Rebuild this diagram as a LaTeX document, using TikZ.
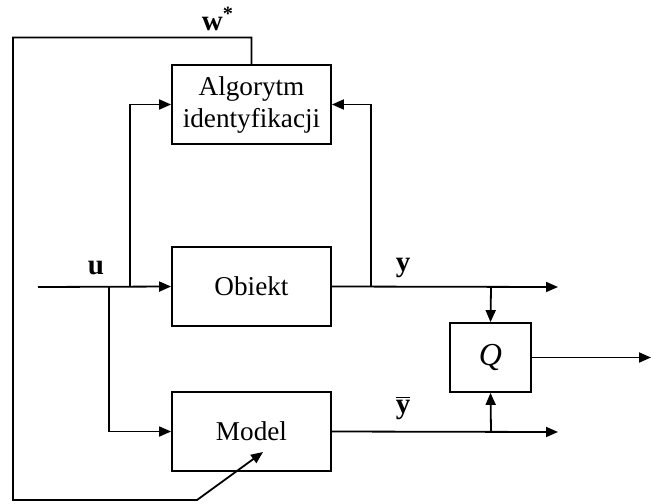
\documentclass[tikz,border=0pt]{standalone}
\usepackage{fontspec}
\setmainfont{Liberation Serif}
\usetikzlibrary{arrows.meta}
\begin{document}
\begin{tikzpicture}[
    x=0.5pt, y=-0.5pt,
    font=\fontsize{13.6}{16}\selectfont,
    blok/.style={draw=black, line width=0.9pt, minimum width=79.5pt, minimum height=39.5pt, align=center, inner sep=1pt},
    arrow/.style={-{Triangle[length=6pt,width=5pt]}, line width=0.9pt},
    bold/.style={font=\fontsize{14.5}{16}\selectfont\bfseries}
]
    \useasboundingbox (0,0) rectangle (651,503);

    % Blocks
    \node[blok] (algo) at (251.5,104.5) {Algorytm\\identyfikacji};
    \node[blok] (obiekt) at (251.5,286.5) {Obiekt};
    \node[blok] (model) at (251.5,431.5) {Model};
    \node[blok, minimum width=40.5pt, minimum height=34.5pt, font=\fontsize{16}{18}\selectfont] (q) at (490.5,357.5) {\textit{Q}};

    % Branch points and free ends
    \coordinate (in) at (38,287);
    \coordinate (b1) at (130,287);
    \coordinate (b2) at (109,287);
    \coordinate (b3) at (371,287);
    \coordinate (b4) at (491,287);
    \coordinate (b5) at (491,432);
    \coordinate (yend) at (558,287);
    \coordinate (ybend) at (558,432);
    \coordinate (qend) at (651,357.5);
    \coordinate (fbtop) at (13,37.5);
    \coordinate (fbbot) at (13,500);
    \coordinate (fbstart) at (197,500);
    \coordinate (fbtip) at (263,452);

    % Signals
    \draw[arrow] (in) -- (obiekt.west);
    \draw[arrow] (b1) |- (algo.west);
    \draw[arrow] (b2) |- (model.west);
    \draw[arrow] (obiekt.east) -- (yend);
    \draw[arrow] (b3) |- (algo.east);
    \draw[arrow] (b4) -- (q.north);
    \draw[arrow] (model.east) -- (ybend);
    \draw[arrow] (b5) -- (q.south);
    \draw[arrow] (q.east) -- (qend);

    % Feedback of parameters
    \draw[arrow] (algo.north) |- (fbtop) -- (fbbot) -- (fbstart) -- (fbtip);

    % Labels
    \node[bold] (wlab) at (218,19) {w\textsuperscript{*}};
    \node[bold] (ulab) at (96,268) {u};
    \node[bold] (ylab) at (403,268) {y};
    \node[bold] (yblab) at (403,408) {$\overline{\mbox{y}}$};
\end{tikzpicture}
\end{document}
